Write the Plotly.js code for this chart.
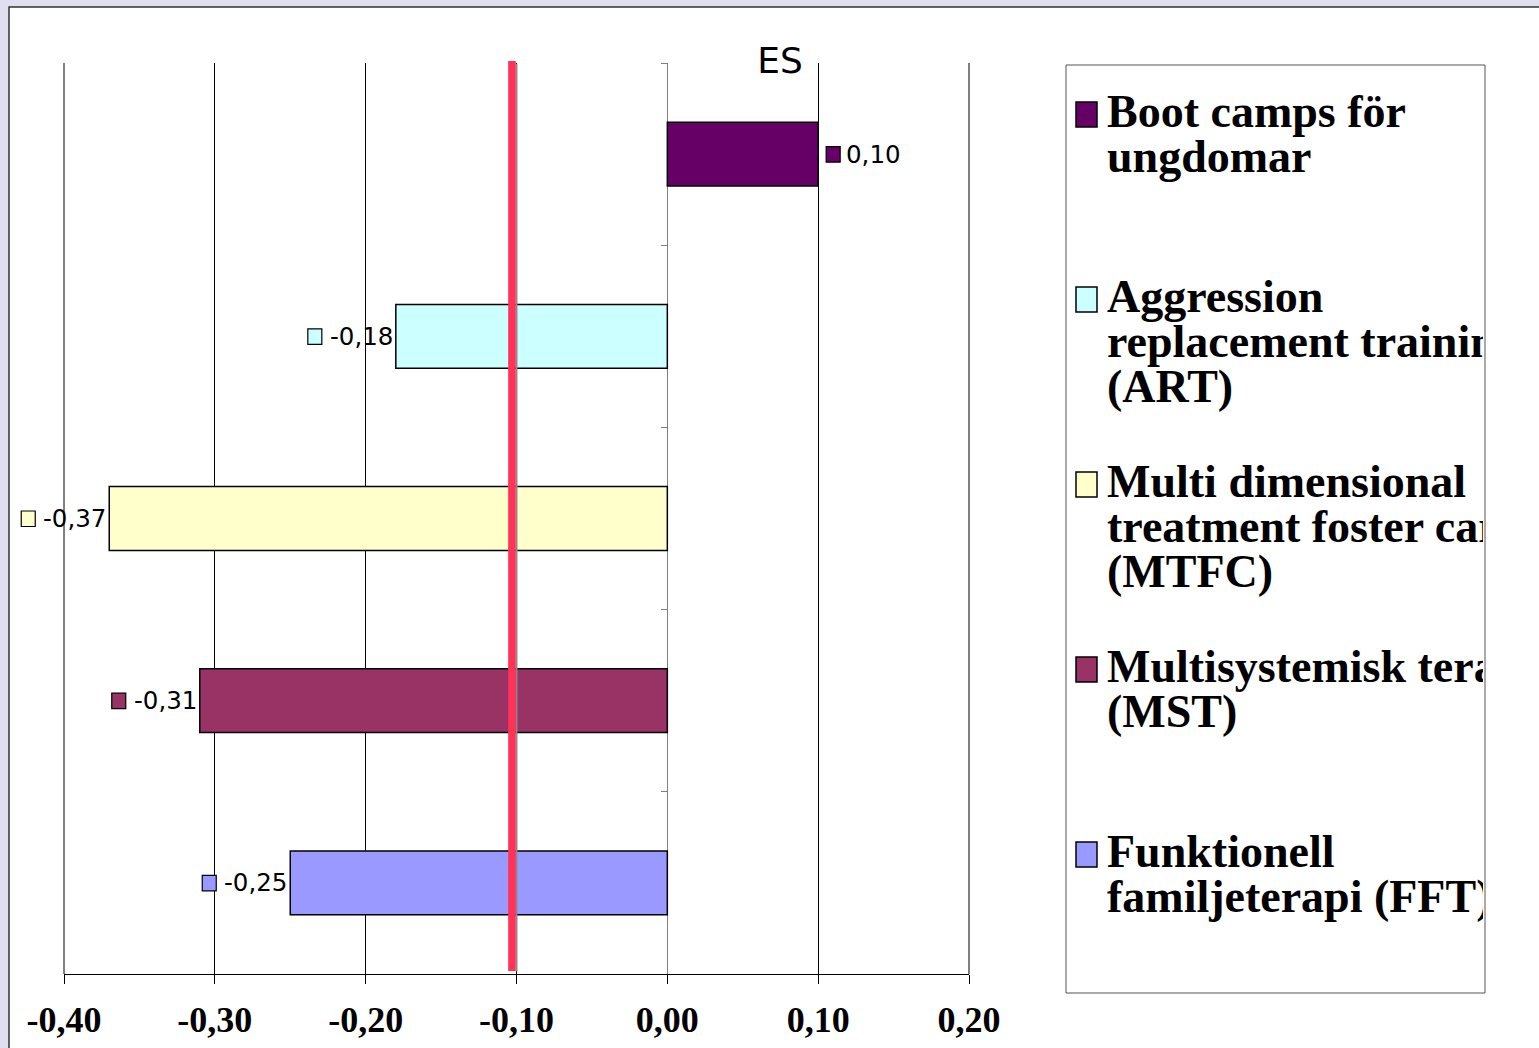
<!DOCTYPE html>
<html><head><meta charset="utf-8">
<script src="https://cdn.plot.ly/plotly-3.0.1.min.js"></script>
<style>html,body{margin:0;padding:0;background:#dfdfef;overflow:hidden;} #chart{width:1539px;height:1048px;}</style>
</head><body><div id="chart"></div>
<script>
// ---- data ----
const seriesNames = ['Boot camps för ungdomar', 'Aggression replacement training (ART)', 'Multi dimensional treatment foster care (MTFC)', 'Multisystemisk terapi (MST)', 'Funktionell familjeterapi (FFT)'];
const legendLines = [
  ['Boot camps för', 'ungdomar'],
  ['Aggression', 'replacement training', '(ART)'],
  ['Multi dimensional', 'treatment foster care', '(MTFC)'],
  ['Multisystemisk terapi', '(MST)'],
  ['Funktionell', 'familjeterapi (FFT)']
];
const esValues = [0.10, -0.18, -0.37, -0.31, -0.25];
const valueLabels = ['0,10', '-0,18', '-0,37', '-0,31', '-0,25'];
const seriesColors = ['#660066', '#ccffff', '#ffffcc', '#993366', '#9999ff'];
const tickValues = [-0.4, -0.3, -0.2, -0.1, 0, 0.1, 0.2];
const tickLabels = ['-0,40', '-0,30', '-0,20', '-0,10', '0,00', '0,10', '0,20'];
const referenceLine = -0.103;
const chartTitle = 'ES';

// ---- layout helpers ----
const W = 1539, H = 1048;
const M = {l: 64, r: 570, t: 63, b: 74};
const PW = W - M.l - M.r, PH = H - M.t - M.b;
const px = v => (v - M.l) / PW;
const py = v => (H - M.b - v) / PH;
const xRange = [-0.4, 0.2];
const nCat = seriesNames.length;
const xFrac = v => (v - xRange[0]) / (xRange[1] - xRange[0]);
const yFrac = i => (nCat - 0.5 - i) / nCat;

const traces = seriesNames.map((n, i) => ({
  type: 'bar', orientation: 'h', x: [esValues[i]], y: [n], width: 0.35,
  marker: {color: seriesColors[i], opacity: 1, line: {color: '#000', width: 1.5}},
  hoverinfo: 'skip', showlegend: false
}));

const shapes = [];
// white panel with dark top/left border
shapes.push({type: 'rect', layer: 'below', xref: 'paper', yref: 'paper',
  x0: px(9), x1: px(1700), y0: py(7), y1: py(1200),
  fillcolor: '#ffffff', line: {color: '#333', width: 1.5}});
// legend box
shapes.push({type: 'rect', layer: 'below', xref: 'paper', yref: 'paper',
  x0: px(1066), x1: px(1485), y0: py(65), y1: py(993),
  fillcolor: '#ffffff', line: {color: '#555', width: 1}});
// edge gridlines (at -0,40 and 0,20)
[0, 1].forEach(f => shapes.push({type: 'line', layer: 'below', xref: 'paper', yref: 'paper',
  x0: f, x1: f, y0: 0, y1: 1, line: {color: '#000', width: 1}}));
// reference line shadow + line
shapes.push({type: 'rect', xref: 'x', yref: 'paper', xsizemode: 'pixel', xanchor: referenceLine,
  x0: 3.8, x1: 5.5, y0: 0.003, y1: py(64), fillcolor: '#8a8a8a', line: {width: 0}});
shapes.push({type: 'rect', xref: 'x', yref: 'paper', xsizemode: 'pixel', xanchor: referenceLine,
  x0: -3.8, x1: 3.8, y0: py(971), y1: py(61), fillcolor: '#ff3358', line: {width: 0}});
// data label keys (paper refs so they are not clipped by the plot area)
esValues.forEach((v, i) => {
  const pos = v >= 0;
  shapes.push({type: 'rect', xref: 'paper', yref: 'paper', xsizemode: 'pixel', ysizemode: 'pixel',
    xanchor: xFrac(v), yanchor: yFrac(i),
    x0: pos ? 8 : -88, x1: pos ? 22 : -74, y0: -8, y1: 7.5,
    fillcolor: seriesColors[i], line: {color: '#000', width: 1.2}});
});

const annotations = [];
esValues.forEach((v, i) => {
  const pos = v >= 0;
  annotations.push({x: v, y: seriesNames[i], xref: 'x', yref: 'y', text: valueLabels[i],
    showarrow: false, xanchor: pos ? 'left' : 'right', yanchor: 'middle',
    xshift: pos ? 28 : -3, borderpad: 0, borderwidth: 0,
    font: {family: 'DejaVu Sans', size: 24.5, color: '#000'}});
});
// legend (drawn manually so long labels clip at box edge)
legendLines.forEach((lines, i) => {
  const base = 127 + i * 185;
  shapes.push({type: 'rect', xref: 'paper', yref: 'paper',
    x0: px(1076), x1: px(1097), y0: py(base), y1: py(base - 25),
    fillcolor: seriesColors[i], line: {color: '#000', width: 1.5}});
  lines.forEach((t, j) => {
    const bl = base + j * 45;
    annotations.push({x: px(1107), y: py(bl + 10), xref: 'paper', yref: 'paper',
      text: t, showarrow: false, xanchor: 'left', yanchor: 'bottom', align: 'left', valign: 'bottom',
      width: 376, height: 44, borderpad: 0, borderwidth: 0,
      font: {family: 'Liberation Serif', size: 46, color: '#000', weight: 'bold'}});
  });
});

const layout = {
  width: W, height: H, margin: M,
  paper_bgcolor: '#dfdfef', plot_bgcolor: 'rgba(0,0,0,0)',
  barmode: 'overlay', showlegend: false,
  title: {text: chartTitle, xref: 'container', yref: 'container', x: 780 / W, xanchor: 'center',
    y: 1 - 60 / H, yanchor: 'middle', font: {family: 'DejaVu Sans', size: 36, color: '#000'}},
  xaxis: {range: xRange, tickvals: tickValues, ticktext: tickLabels,
    showgrid: true, gridcolor: '#000', gridwidth: 1,
    zeroline: true, zerolinecolor: '#808080', zerolinewidth: 1,
    showline: true, linecolor: '#000', linewidth: 1,
    ticks: 'outside', ticklen: 9, tickcolor: '#000', tickwidth: 1, ticklabelstandoff: 5,
    tickfont: {family: 'Liberation Serif', size: 36, color: '#000', weight: 'bold'},
    fixedrange: true},
  yaxis: {type: 'category', categoryorder: 'array', categoryarray: seriesNames,
    range: [nCat - 0.5, -0.5], showticklabels: false, showgrid: false, zeroline: false, showline: false,
    anchor: 'free', position: xFrac(0),
    ticks: 'outside', tickson: 'boundaries', ticklen: 6, tickcolor: '#808080', fixedrange: true},
  shapes: shapes, annotations: annotations
};
Plotly.newPlot('chart', traces, layout, {displayModeBar: false, staticPlot: true});
</script></body></html>
